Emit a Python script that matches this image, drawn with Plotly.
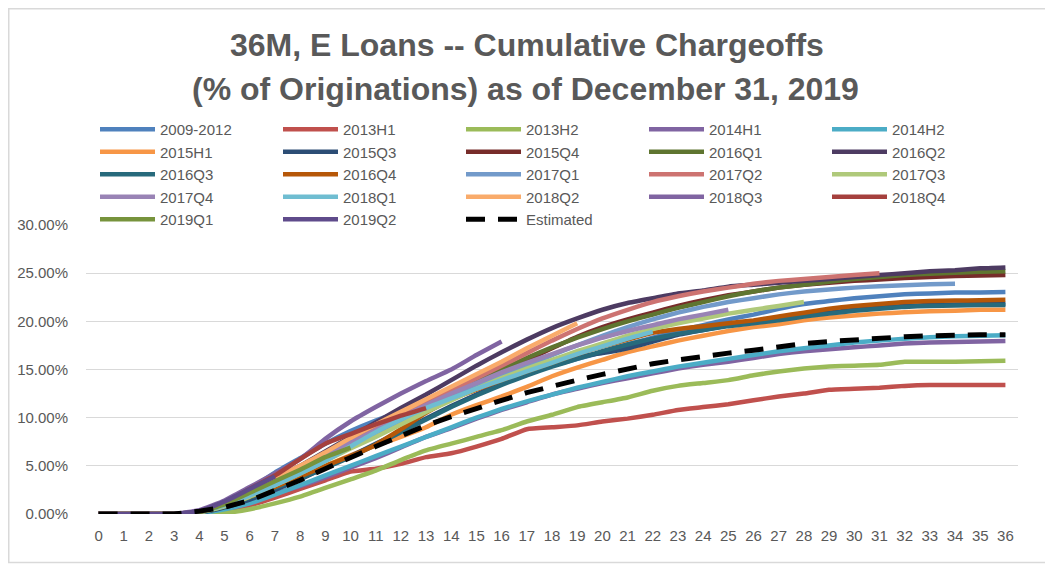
import plotly.graph_objects as go

months = list(range(0, 37))
x_tick_labels = [str(m) for m in months]
y_tick_vals = [0, 5, 10, 15, 20, 25, 30]

Z = [0, 0, 0, 0]
s_2009_2012 = Z + [0.3, 1.0, 2.6, 4.3, 5.8, 7.3, 8.6, 9.7, 10.6, 11.4, 12.2, 13.0, 13.8, 14.6, 15.4, 16.1, 16.8, 17.6, 18.3, 19.0, 19.6, 20.2, 20.7, 21.3, 21.8, 22.1, 22.4, 22.6, 22.8, 22.9, 23.0, 23.0, 23.05]
s_2013H1 = Z + [0.05, 0.3, 0.9, 1.7, 2.6, 3.5, 4.4, 4.7, 5.2, 5.9, 6.3, 7.0, 7.8, 8.8, 9.0, 9.2, 9.6, 9.9, 10.3, 10.8, 11.1, 11.4, 11.8, 12.2, 12.5, 12.9, 13.0, 13.1, 13.3, 13.4, 13.4, 13.4, 13.4]
s_2013H2 = Z + [0.0, 0.1, 0.5, 1.1, 1.8, 2.7, 3.6, 4.5, 5.6, 6.6, 7.3, 8.0, 8.7, 9.6, 10.3, 11.1, 11.6, 12.1, 12.8, 13.3, 13.6, 13.9, 14.4, 14.8, 15.1, 15.3, 15.4, 15.5, 15.8, 15.8, 15.8, 15.85, 15.9]
s_2014H1 = Z + [0.1, 0.6, 1.3, 2.1, 2.9, 3.8, 4.8, 5.8, 6.9, 8.0, 8.9, 9.9, 10.8, 11.6, 12.4, 13.0, 13.6, 14.1, 14.6, 15.1, 15.5, 15.8, 16.2, 16.6, 16.9, 17.1, 17.3, 17.5, 17.7, 17.8, 17.85, 17.9, 17.95]
s_2014H2 = Z + [0.1, 0.5, 1.1, 2.0, 3.0, 4.0, 5.0, 6.0, 7.0, 8.0, 9.0, 10.0, 10.9, 11.7, 12.4, 13.1, 13.7, 14.3, 14.8, 15.3, 15.7, 16.1, 16.5, 16.9, 17.2, 17.5, 17.8, 18.0, 18.2, 18.35, 18.45, 18.5, 18.55]
s_2015H1 = Z + [0.2, 0.8, 1.7, 2.8, 3.9, 5.0, 6.1, 7.1, 8.0, 9.0, 10.3, 11.3, 12.2, 13.2, 14.3, 15.2, 16.0, 16.8, 17.4, 18.0, 18.5, 19.0, 19.4, 19.7, 20.1, 20.4, 20.6, 20.8, 20.95, 21.05, 21.1, 21.2, 21.2]
s_2015Q3 = Z + [0.15, 0.7, 1.5, 2.5, 3.6, 4.8, 6.0, 7.3, 8.6, 9.9, 11.2, 12.4, 13.6, 14.7, 15.6, 16.3, 16.7, 17.2, 17.9, 18.6, 19.1, 19.6, 19.9, 20.2, 20.6, 20.9, 21.2, 21.4, 21.6, 21.7, 21.75, 21.8, 21.8]
s_2015Q4 = Z + [0.2, 0.9, 1.9, 3.1, 4.3, 5.6, 7.0, 8.3, 9.6, 10.9, 12.2, 13.5, 14.8, 16.0, 17.2, 18.4, 19.4, 20.2, 20.9, 21.6, 22.2, 22.7, 23.1, 23.5, 23.8, 24.0, 24.2, 24.35, 24.5, 24.6, 24.7, 24.75, 24.8]
s_2016Q1 = Z + [0.2, 0.9, 2.0, 3.3, 4.6, 6.0, 7.4, 8.7, 10.0, 11.3, 12.6, 13.8, 15.0, 16.2, 17.3, 18.3, 19.2, 20.0, 20.7, 21.4, 22.0, 22.6, 23.1, 23.5, 23.8, 24.1, 24.4, 24.6, 24.8, 24.95, 25.05, 25.15, 25.2]
s_2016Q2 = Z + [0.2, 1.0, 2.2, 3.6, 5.0, 6.5, 8.0, 9.5, 11.0, 12.4, 13.9, 15.4, 16.8, 18.1, 19.3, 20.3, 21.2, 21.9, 22.4, 22.9, 23.2, 23.6, 23.8, 24.0, 24.2, 24.4, 24.6, 24.8, 25.0, 25.2, 25.3, 25.5, 25.6]
s_2016Q3 = Z + [0.15, 0.8, 1.7, 2.7, 3.7, 4.8, 5.9, 7.2, 8.5, 9.8, 11.1, 12.3, 13.4, 14.4, 15.3, 16.1, 16.9, 17.6, 18.2, 18.7, 19.1, 19.5, 19.8, 20.1, 20.5, 20.8, 21.1, 21.3, 21.5, 21.6, 21.65, 21.7, 21.7]
s_2016Q4 = Z + [0.2, 0.9, 1.8, 2.8, 3.9, 5.0, 6.0, 7.2, 8.8, 10.5, 11.9, 12.9, 13.9, 14.8, 15.7, 16.6, 17.4, 18.1, 18.8, 19.2, 19.5, 19.8, 20.1, 20.5, 20.9, 21.3, 21.6, 21.8, 22.0, 22.1, 22.15, 22.2, 22.25]
s_2017Q1 = Z + [0.2, 1.0, 2.1, 3.3, 4.5, 5.8, 7.1, 8.4, 9.7, 10.9, 12.1, 13.2, 14.3, 15.4, 16.5, 17.5, 18.5, 19.4, 20.2, 20.9, 21.5, 22.0, 22.4, 22.8, 23.1, 23.3, 23.5, 23.65, 23.75, 23.85, 23.9, None, None]
s_2017Q2 = Z + [0.2, 1.0, 2.2, 3.5, 4.9, 6.3, 7.6, 8.9, 10.2, 11.5, 12.8, 14.1, 15.4, 16.7, 18.0, 19.2, 20.3, 21.2, 22.0, 22.6, 23.1, 23.5, 23.9, 24.2, 24.4, 24.6, 24.8, 25.0, None, None, None, None, None]
s_2017Q3 = Z + [0.15, 0.8, 1.8, 3.0, 4.2, 5.5, 6.8, 8.0, 9.3, 10.6, 11.8, 13.0, 14.1, 15.1, 16.0, 16.9, 17.7, 18.5, 19.2, 19.8, 20.3, 20.8, 21.2, 21.6, 22.0] + [None] * 8
s_2017Q4 = Z + [0.2, 1.0, 2.2, 3.4, 4.7, 6.0, 7.4, 8.7, 10.0, 11.3, 12.5, 13.6, 14.7, 15.7, 16.6, 17.5, 18.3, 19.0, 19.6, 20.2, 20.7, 21.2] + [None] * 11
s_2018Q1 = Z + [0.2, 0.9, 1.9, 3.0, 4.2, 5.5, 7.0, 8.5, 9.8, 11.0, 12.0, 13.0, 13.9, 14.8, 15.7, 16.6, 17.4, 18.2, 18.9] + [None] * 14
s_2018Q2 = Z + [0.3, 1.2, 2.4, 3.7, 5.0, 6.4, 7.9, 9.3, 10.6, 11.9, 13.2, 14.5, 15.8, 17.2, 18.5, 19.8] + [None] * 17
s_2018Q3 = Z + [0.4, 1.4, 2.8, 4.2, 5.7, 7.8, 9.6, 11.1, 12.5, 13.8, 15.0, 16.5, 17.9] + [None] * 20
s_2018Q4 = Z + [0.2, 1.2, 2.6, 4.0, 5.7, 7.3, 8.3, 9.3, 10.2, 11.0] + [None] * 23
s_2019Q1 = Z + [0.2, 1.0, 2.2, 3.4, 4.6, 5.9, 6.9] + [None] * 26
s_2019Q2 = Z + [0.3, 1.3, 2.6, 3.9] + [None] * 29
estimated = Z + [0.3, 0.7, 1.4, 2.4, 3.5, 4.7, 5.9, 7.0, 8.1, 9.2, 10.1, 11.0, 11.8, 12.6, 13.3, 13.9, 14.5, 15.1, 15.6, 16.0, 16.4, 16.7, 17.0, 17.4, 17.7, 17.9, 18.1, 18.3, 18.4, 18.5, 18.6, 18.6, 18.6]

series_names = ["2009-2012", "2013H1", "2013H2", "2014H1", "2014H2", "2015H1", "2015Q3", "2015Q4",
                "2016Q1", "2016Q2", "2016Q3", "2016Q4", "2017Q1", "2017Q2", "2017Q3", "2017Q4",
                "2018Q1", "2018Q2", "2018Q3", "2018Q4", "2019Q1", "2019Q2"]
series_values = [s_2009_2012, s_2013H1, s_2013H2, s_2014H1, s_2014H2, s_2015H1, s_2015Q3, s_2015Q4,
                 s_2016Q1, s_2016Q2, s_2016Q3, s_2016Q4, s_2017Q1, s_2017Q2, s_2017Q3, s_2017Q4,
                 s_2018Q1, s_2018Q2, s_2018Q3, s_2018Q4, s_2019Q1, s_2019Q2]
series_colors = ["#4F81BD", "#C0504D", "#9BBB59", "#8064A2", "#4BACC6", "#F79646", "#2C4D75", "#772C2A",
                 "#5F7530", "#4D3B62", "#276A7C", "#B65708", "#729ACA", "#CD7371", "#AFC97A", "#9983B5",
                 "#6FBDD1", "#F9AB6B", "#8064A2", "#A5403D", "#77933C", "#5F4B8B"]

# the page body adds an 8px margin, so the figure is drawn 8px in from the window edge
OFF = 8
W, H = 1053 - OFF, 564 - OFF
L, R, T, B = 86 - OFF, 35, 225 - OFF, 50
PW, PH = W - L - R, H - T - B
FONT = "Liberation Sans, Arial, sans-serif"
GREY = "#595959"

def px_x(p):
    return (p - OFF - L) / PW

def px_y(p):
    return (H - B - (p - OFF)) / PH

fig = go.Figure()
for name, vals, col in zip(series_names, series_values, series_colors):
    fig.add_trace(go.Scatter(
        x=months, y=[None if v is None else v / 100 for v in vals], name=name, mode="lines",
        line=dict(color=col, width=4.5, shape="spline", smoothing=0.4),
        connectgaps=False,
    ))
fig.add_trace(go.Scatter(
    x=months, y=[v / 100 for v in estimated], name="Estimated", mode="lines",
    line=dict(color="black", width=5, dash="19px,13px"),
))

fig.update_layout(
    width=W, height=H,
    margin=dict(l=L, r=R, t=T, b=B, autoexpand=False),
    paper_bgcolor="white", plot_bgcolor="white",
    font=dict(family=FONT, color=GREY, size=15),
    showlegend=True,
    legend=dict(
        orientation="h", x=px_x(95), y=px_y(113), xanchor="left", yanchor="top",
        entrywidth=113, entrywidthmode="pixels", itemwidth=55,
        font=dict(family=FONT, size=15, color=GREY), tracegroupgap=0,
        bgcolor="rgba(0,0,0,0)",
    ),
    xaxis=dict(
        range=[-0.5, 36.5], tickmode="array", tickvals=months, ticktext=x_tick_labels,
        showgrid=False, zeroline=False, showline=False, ticks="", automargin=False,
        ticklabelstandoff=11,
        tickfont=dict(family=FONT, size=15, color=GREY),
    ),
    yaxis=dict(
        range=[0, 0.30], tickvals=[v / 100 for v in y_tick_vals], tickformat=".2%",
        showgrid=True, gridcolor="#D9D9D9", gridwidth=1, zeroline=False, showline=False,
        ticks="", automargin=False, ticklabelstandoff=17,
        tickfont=dict(family=FONT, size=15, color=GREY),
    ),
    annotations=[
        dict(text="<b>36M, E Loans -- Cumulative Chargeoffs</b>", xref="paper", yref="paper",
             x=px_x(527), y=px_y(45), xanchor="center", yanchor="middle", showarrow=False,
             font=dict(family=FONT, size=32, color=GREY)),
        dict(text="<b>(% of Originations) as of December 31, 2019</b>", xref="paper", yref="paper",
             x=px_x(525), y=px_y(89), xanchor="center", yanchor="middle", showarrow=False,
             font=dict(family=FONT, size=32, color=GREY)),
    ],
    shapes=[dict(type="rect", xref="paper", yref="paper",
                 x0=px_x(OFF + 0.75), x1=px_x(1053 - 1.5), y0=px_y(564 - 1.5), y1=px_y(OFF + 0.75),
                 line=dict(color="#D9D9D9", width=1.5), layer="below")],
)

fig.write_html("out.html")
